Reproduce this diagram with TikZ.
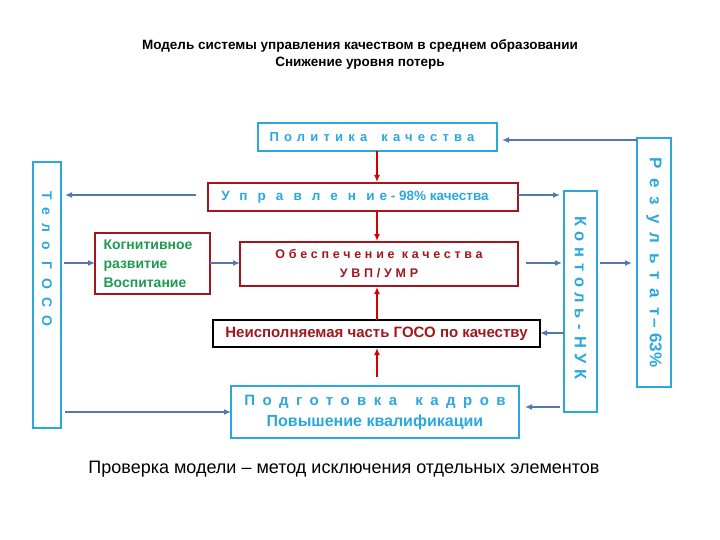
\documentclass[tikz,border=0pt]{standalone}
\usepackage{fontspec}
\setmainfont{Liberation Sans}
\usetikzlibrary{arrows.meta}
\definecolor{bl}{HTML}{2AA8DE}
\definecolor{dr}{HTML}{A3161C}
\definecolor{gr}{HTML}{1E9A52}
\definecolor{ar}{HTML}{5079B0}
\definecolor{rr}{HTML}{D40000}
\newcommand{\lsp}[2]{{\addfontfeatures{LetterSpace=#1}#2}}
\tikzset{
 bbox/.style={draw=bl,line width=2.2pt,inner sep=0pt},
 rbox/.style={draw=dr,line width=2.2pt,inner sep=0pt},
 kbox/.style={draw=black,line width=2.2pt,inner sep=0pt},
 barr/.style={draw=ar,line width=1.6pt,-{Latex[length=7pt,width=6pt]}},
 rarr/.style={draw=rr,line width=1.6pt,-{Latex[length=7pt,width=6pt]}},
}
\begin{document}
\begin{tikzpicture}[x=1pt,y=-1pt]
\useasboundingbox (0,0) rectangle (720,540);
\node[font=\bfseries\fontsize{13.5}{17}\selectfont,align=center] (t) at (360,54) {Модель системы управления качеством в среднем образовании\\Снижение уровня потерь};
% boxes
\draw[bbox] (258,123) rectangle (497,151);
\node[text=bl,font=\bfseries\fontsize{13}{14}\selectfont] (polt) at (372,137) {\lsp{40}{Политика}\hspace{14pt}\lsp{40}{качества}};
\draw[bbox] (33,162) rectangle (61,428);
\node[text=bl,font=\bfseries\fontsize{14}{15}\selectfont,rotate=-90,anchor=west] (telo) at (47,188) {\lsp{60}{Тело ГОСО}};
\draw[rbox] (208,183) rectangle (518,211);
\node[text=bl,font=\bfseries\fontsize{13.5}{15}\selectfont] (upr) at (355,197) {\lsp{75}{Управлени}\hspace{5pt}е - 98\% качества};
\draw[rbox] (95,233) rectangle (210,294);
\node[text=gr,font=\bfseries\fontsize{14}{19}\selectfont,align=left,anchor=west] (kog) at (100,263.5) {Когнитивное\\развитие\\Воспитание};
\draw[rbox] (240,242) rectangle (518,286);
\node[text=dr,font=\bfseries\fontsize{12.5}{19}\selectfont,align=center] (obe) at (379,264) {\lsp{30}{Обеспечение качества}\\\lsp{30}{УВП/УМР}};
\draw[kbox] (213,320) rectangle (540,347);
\node[text=dr,font=\bfseries\fontsize{15}{17}\selectfont] (neis) at (376.5,333.5) {Неисполняемая часть ГОСО по качеству};
\draw[bbox] (231,386) rectangle (519,438);
\node[text=bl,font=\bfseries\fontsize{15}{21}\selectfont,align=center] (pod) at (375,412) {\lsp{50}{Подготовка}\hspace{18pt}\lsp{50}{кадров}\\{\fontsize{16}{18}\selectfont Повышение квалификации}};
\draw[bbox] (564,191) rectangle (597,412);
\node[text=bl,font=\bfseries\fontsize{16.5}{17}\selectfont,rotate=-90] (kon) at (580.5,298) {\lsp{35}{Контоль-НУК}};
\draw[bbox] (637,138) rectangle (671,387);
\node[text=bl,font=\bfseries\fontsize{17}{18}\selectfont,rotate=-90] (rez) at (654,262.5) {\lsp{55}{Результат}\,– 63\%};
\node[font=\fontsize{18}{20}\selectfont] (cap) at (344,469) {Проверка модели – метод исключения отдельных элементов};
% arrows
\coordinate (a1) at (637,140); \coordinate (a1e) at (502,140);
\draw[barr] (a1) -- (a1e);
\coordinate (r1) at (377,151); \coordinate (r1e) at (377,182);
\draw[rarr] (r1) -- (r1e);
\coordinate (r2) at (377,211); \coordinate (r2e) at (377,241);
\draw[rarr] (r2) -- (r2e);
\coordinate (r3) at (377,320); \coordinate (r3e) at (377,287);
\draw[rarr] (r3) -- (r3e);
\coordinate (r4) at (377,377); \coordinate (r4e) at (377,348);
\draw[rarr] (r4) -- (r4e);
\coordinate (b1) at (196,195); \coordinate (b1e) at (65,195);
\draw[barr] (b1) -- (b1e);
\coordinate (b2) at (64,263); \coordinate (b2e) at (95,263);
\draw[barr] (b2) -- (b2e);
\coordinate (b3) at (210,263); \coordinate (b3e) at (240,263);
\draw[barr] (b3) -- (b3e);
\coordinate (b4) at (65,412); \coordinate (b4e) at (231,412);
\draw[barr] (b4) -- (b4e);
\coordinate (b5) at (518,195); \coordinate (b5e) at (560,195);
\draw[barr] (b5) -- (b5e);
\coordinate (b6) at (526,263); \coordinate (b6e) at (562,263);
\draw[barr] (b6) -- (b6e);
\coordinate (b7) at (600,263); \coordinate (b7e) at (632,263);
\draw[barr] (b7) -- (b7e);
\coordinate (b8) at (564,333); \coordinate (b8e) at (540,333);
\draw[barr] (b8) -- (b8e);
\coordinate (b9) at (560,407); \coordinate (b9e) at (525,407);
\draw[barr] (b9) -- (b9e);
\end{tikzpicture}
\end{document}
